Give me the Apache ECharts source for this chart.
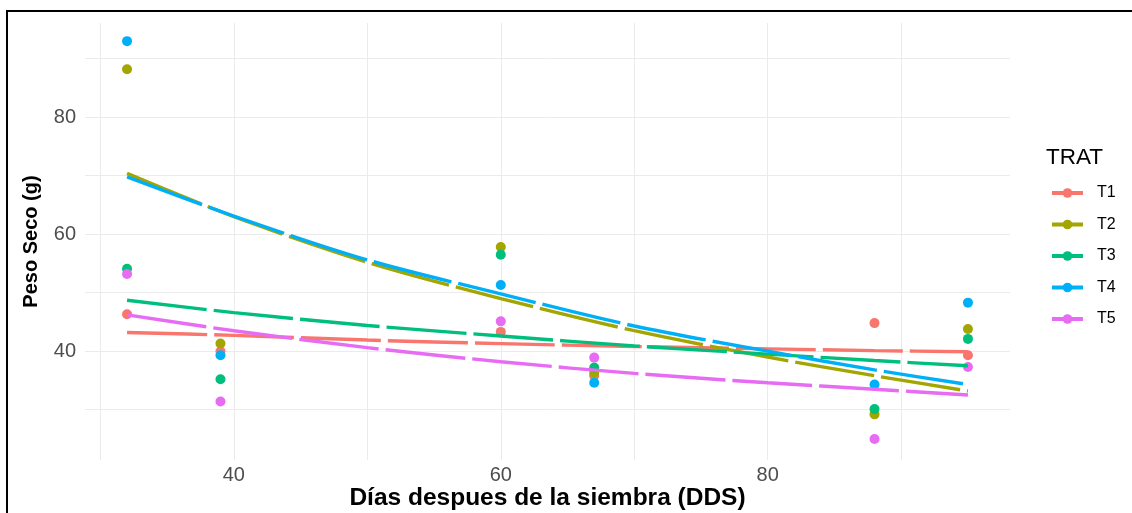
<!DOCTYPE html>
<html>
<head>
<meta charset="utf-8">
<script src="https://cdn.jsdelivr.net/npm/echarts@6/dist/echarts.min.js"></script>
<style>
  html, body { margin: 0; padding: 0; background: #ffffff; }
  #chart { width: 1132px; height: 513px; }
</style>
</head>
<body>
<div id="chart"></div>
<script>
// Treatments and their colours
const treatments = ['T1', 'T2', 'T3', 'T4', 'T5'];
const colors = ['#F8766D', '#A3A500', '#00BF7D', '#00B0F6', '#E76BF3'];

// Observed dry weight (g) per sampling day
const days = [32, 39, 60, 67, 88, 95];
const pesoT1 = [46.3, 40.0, 43.3, 35.8, 44.8, 39.3];
const pesoT2 = [88.2, 41.3, 57.8, 36.3, 29.2, 43.8];
const pesoT3 = [54.1, 35.2, 56.5, 37.2, 30.1, 42.1];
const pesoT4 = [93.0, 39.3, 51.3, 34.6, 34.3, 48.3];
const pesoT5 = [53.2, 31.4, 45.1, 38.9, 25.0, 37.3];

// Fitted trend per treatment
const fitDays = [32, 40, 50, 60, 70, 80, 88, 95];
const fitT1 = [43.2, 42.7, 41.9, 41.3, 40.8, 40.4, 40.1, 39.9];
const fitT2 = [70.4, 63.0, 55.2, 49.0, 43.5, 39.0, 35.8, 33.2];
const fitT3 = [48.7, 46.6, 44.4, 42.6, 40.9, 39.5, 38.4, 37.5];
const fitT4 = [69.8, 63.1, 55.6, 49.8, 44.3, 40.0, 36.8, 34.3];
const fitT5 = [46.2, 43.5, 40.6, 38.2, 36.2, 34.6, 33.5, 32.5];

// Grid lines and tick labels
const xGrid = [30, 40, 50, 60, 70, 80, 90];
const xLabels = [40, 60, 80];
const yGrid = [30, 40, 50, 60, 70, 80, 90];
const yLabels = [40, 60, 80];

const observed = [pesoT1, pesoT2, pesoT3, pesoT4, pesoT5];
const fitted = [fitT1, fitT2, fitT3, fitT4, fitT5];

const FONT = '"Liberation Sans", Arial, sans-serif';

const lineSeries = treatments.map((name, i) => ({
  name: name,
  type: 'line',
  data: fitDays.map((d, j) => [d, fitted[i][j]]),
  smooth: 0.3,
  showSymbol: false,
  symbol: 'circle',
  itemStyle: { color: colors[i] },
  lineStyle: { color: colors[i], width: 3.4, type: [80, 7] },
  z: 3,
  silent: true
}));

const pointSeries = treatments.map((name, i) => ({
  name: name,
  type: 'scatter',
  data: days.map((d, j) => [d, observed[i][j]]),
  symbol: 'circle',
  symbolSize: 10,
  itemStyle: { color: colors[i], opacity: 1 },
  z: 2,
  silent: true
}));

const chart = echarts.init(document.getElementById('chart'), null, { renderer: 'canvas' });

chart.setOption({
  animation: false,
  backgroundColor: '#ffffff',
  textStyle: { fontFamily: FONT },
  grid: { left: 85, right: 122, top: 23, bottom: 53, containLabel: false, outerBoundsMode: 'none' },
  xAxis: {
    type: 'value',
    min: 28.85,
    max: 98.15,
    axisLine: { show: false },
    axisTick: { show: false, customValues: xGrid },
    axisLabel: { customValues: xLabels, color: '#4D4D4D', fontSize: 20, margin: 5, fontFamily: FONT },
    splitLine: { show: true, lineStyle: { color: '#EBEBEB', width: 1 } },
    name: 'Días despues de la siembra (DDS)',
    nameLocation: 'middle',
    nameGap: 26,
    nameMoveOverlap: false,
    nameTextStyle: { color: '#000000', fontSize: 24.5, fontWeight: 'bold', fontFamily: FONT }
  },
  yAxis: {
    type: 'value',
    min: 21.4,
    max: 96.1,
    axisLine: { show: false },
    axisTick: { show: false, customValues: yGrid },
    axisLabel: { customValues: yLabels, color: '#4D4D4D', fontSize: 20, margin: 9, fontFamily: FONT },
    splitLine: { show: true, lineStyle: { color: '#EBEBEB', width: 1 } },
    name: 'Peso Seco (g)',
    nameLocation: 'middle',
    nameGap: 44,
    nameRotate: 90,
    nameMoveOverlap: false,
    nameTextStyle: { color: '#000000', fontSize: 20, fontWeight: 'bold', fontFamily: FONT }
  },
  legend: {
    data: treatments,
    orient: 'vertical',
    left: 1045,
    top: 180,
    itemWidth: 31,
    itemHeight: 12,
    itemGap: 15.5,
    lineStyle: { type: 'solid', width: 4 },
    textStyle: { fontSize: 16, color: '#000000', fontFamily: FONT, padding: [0, 0, 0, 9] },
    selectedMode: false
  },
  graphic: [
    {
      type: 'text',
      left: 1046,
      top: 146,
      style: { text: 'TRAT', fontSize: 22.5, fill: '#000000', fontFamily: FONT }
    },
    {
      type: 'rect',
      shape: { x: 7, y: 11, width: 1200, height: 600 },
      style: { fill: 'none', stroke: '#000000', lineWidth: 2 },
      silent: true
    }
  ],
  series: lineSeries.concat(pointSeries)
});
</script>
</body>
</html>
